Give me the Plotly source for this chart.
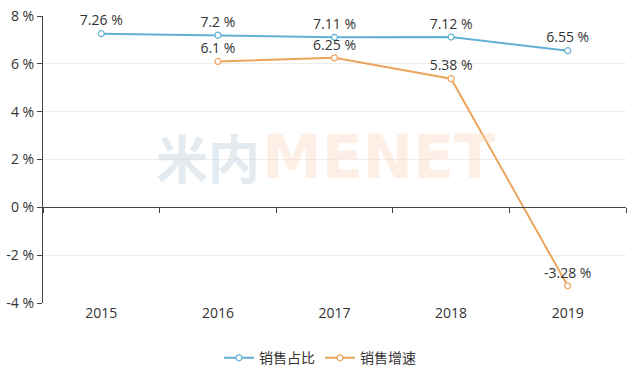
import plotly.graph_objects as go

years = ["2015", "2016", "2017", "2018", "2019"]
share = [7.26, 7.2, 7.11, 7.12, 6.55]
growth = [None, 6.1, 6.25, 5.38, -3.28]
share_name = "销售占比"
growth_name = "销售增速"
y_ticks = [-4, -2, 0, 2, 4, 6, 8]

FONT = "Open Sans, Noto Sans CJK SC, sans-serif"
BLUE = "#62b0d3"
ORANGE = "#eba45c"

def labels(vals):
    return [None if v is None else f"{v:g} %" for v in vals]

fig = go.Figure()
fig.add_trace(go.Scatter(
    x=years, y=share, name=share_name, mode="lines+markers+text",
    line=dict(color=BLUE, width=2),
    marker=dict(symbol="circle", size=6, color="white", line=dict(color=BLUE, width=1.2)),
    text=labels(share), textposition="top center", cliponaxis=False,
    textfont=dict(family=FONT, size=14, color="#333333"),
))
fig.add_trace(go.Scatter(
    x=years, y=growth, name=growth_name, mode="lines+markers+text",
    line=dict(color=ORANGE, width=2),
    marker=dict(symbol="circle", size=6, color="white", line=dict(color=ORANGE, width=1.2)),
    text=labels(growth), textposition="top center", cliponaxis=False,
    textfont=dict(family=FONT, size=14, color="#333333"),
    connectgaps=False,
))

# watermark
fig.add_annotation(x=0.376, y=0.51, xref="paper", yref="paper", text="<b>米内</b>",
                   showarrow=False, font=dict(family="Noto Sans CJK SC", size=52,
                                              color="rgba(200,216,226,0.5)"),
                   xanchor="right", yanchor="middle")
fig.add_annotation(x=0.372, y=0.51, xref="paper", yref="paper", text="<b>MENET</b>",
                   showarrow=False, font=dict(family="DejaVu Sans, sans-serif", size=60,
                                              color="rgba(250,214,186,0.38)"),
                   xanchor="left", yanchor="middle")

fig.update_layout(
    width=640, height=386,
    margin=dict(l=43, r=14, t=16, b=83, autoexpand=False),
    paper_bgcolor="white", plot_bgcolor="white",
    font=dict(family=FONT, size=14, color="#333333"),
    showlegend=True,
    legend=dict(orientation="h", x=0.5, xanchor="center", xref="container",
                y=0.072, yanchor="middle", yref="container",
                font=dict(family=FONT, size=14, color="#333333")),
    xaxis=dict(type="category", range=[-0.5, len(years) - 0.5],
               showline=False, showgrid=False, ticks="", zeroline=False,
               tickfont=dict(family=FONT, size=14, color="#333333")),
    xaxis2=dict(matches="x", overlaying="x", anchor="free", position=1/3,
                type="category", showline=True, linecolor="#444444", linewidth=1.2,
                ticks="outside", tickson="boundaries", ticklen=5, tickcolor="#444444",
                showticklabels=False, showgrid=False, zeroline=False),
    yaxis=dict(range=[-4, 8], tickmode="array", tickvals=y_ticks,
               ticktext=[f"{v} %" for v in y_ticks],
               showline=True, linecolor="#444444", linewidth=1.2,
               ticks="outside", ticklen=5, tickcolor="#444444",
               showgrid=True, gridcolor="#eeeeee", gridwidth=1, zeroline=False,
               tickfont=dict(family=FONT, size=14, color="#333333")),
)
fig.add_trace(go.Scatter(x=years, y=share, xaxis="x2", mode="none", showlegend=False, hoverinfo="skip"))

fig.write_html("out.html", config={"displayModeBar": False})
with open("out.html", encoding="utf-8") as f:
    html = f.read()
html = html.replace("<head>", "<head><style>html,body{margin:0;padding:0;}</style>", 1)
with open("out.html", "w", encoding="utf-8") as f:
    f.write(html)
